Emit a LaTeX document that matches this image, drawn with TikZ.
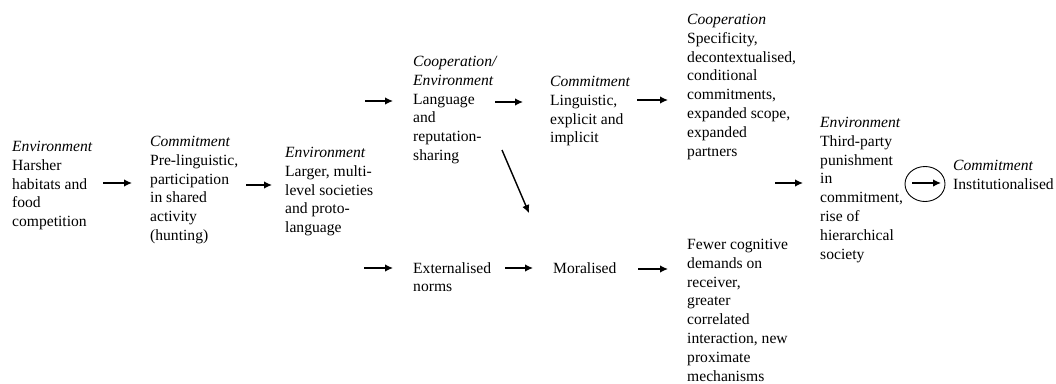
\documentclass[tikz,border=0pt]{standalone}
\usepackage{fontspec}
\setmainfont{Liberation Serif}
\usetikzlibrary{arrows.meta,shapes.geometric}
\begin{document}
\begin{tikzpicture}[x=1pt,y=-1pt,
  txt/.style={anchor=north west, align=left, inner sep=0pt,
              font=\fontsize{15.6}{18.8}\selectfont},
  arr/.style={line width=1.4pt, -{Latex[length=8pt,width=7.5pt]}},
  ring/.style={draw, ellipse, line width=0.9pt, minimum width=40pt,
               minimum height=35pt, inner sep=0pt},
]
\useasboundingbox[fill=white] (0,0) rectangle (1056,383);

% stages of the top and middle rows
\node[txt] (harsh) at (12,141)  {\textit{Environment}\\Harsher\\habitats and\\food\\competition};
\node[txt] (prel)  at (150,136) {\textit{Commitment}\\Pre-linguistic,\\participation\\in shared\\activity\\(hunting)};
\node[txt] (multi) at (285,147) {\textit{Environment}\\Larger, multi-\\level societies\\and proto-\\language};
\node[txt] (lang)  at (413,56)  {\textit{Cooperation/}\\\textit{Environment}\\Language\\and\\reputation-\\sharing};
\node[txt] (ling)  at (550,76)  {\textit{Commitment}\\Linguistic,\\explicit and\\implicit};
\node[txt] (spec)  at (687,14)  {\textit{Cooperation}\\Specificity,\\decontextualised,\\conditional\\commitments,\\expanded scope,\\expanded\\partners};
\node[txt] (third) at (820,117) {\textit{Environment}\\Third-party\\punishment\\in\\commitment,\\rise of\\hierarchical\\society};
\node[txt] (inst)  at (953,160) {\textit{Commitment}\\Institutionalised};

% stages of the lower row
\node[txt] (ext)   at (413,262) {Externalised\\norms};
\node[txt] (moral) at (553,262) {Moralised};
\node[txt] (fewer) at (687,239) {Fewer cognitive\\demands on\\receiver,\\greater\\correlated\\interaction, new\\proximate\\mechanisms};

% oval around the last transition
\node[ring] (loop) at (925,184) {};

% arrow end points
\coordinate (a1s) at (103,183); \coordinate (a1e) at (132,183);
\coordinate (a2s) at (246,185); \coordinate (a2e) at (272,185);
\coordinate (a3s) at (365,101); \coordinate (a3e) at (393,101);
\coordinate (a4s) at (495,102); \coordinate (a4e) at (523,102);
\coordinate (a5s) at (637,100); \coordinate (a5e) at (668,100);
\coordinate (a6s) at (364,268); \coordinate (a6e) at (393,268);
\coordinate (a7s) at (505,268); \coordinate (a7e) at (533,268);
\coordinate (a8s) at (638,269); \coordinate (a8e) at (668,269);
\coordinate (a9s) at (775,183); \coordinate (a9e) at (803,183);
\coordinate (dgs) at (502,150); \coordinate (dge) at (529,213);
\coordinate (rgs) at (912,183); \coordinate (rge) at (941,183);

\draw[arr] (a1s) -- (a1e);
\draw[arr] (a2s) -- (a2e);
\draw[arr] (a3s) -- (a3e);
\draw[arr] (a4s) -- (a4e);
\draw[arr] (a5s) -- (a5e);
\draw[arr] (a6s) -- (a6e);
\draw[arr] (a7s) -- (a7e);
\draw[arr] (a8s) -- (a8e);
\draw[arr] (a9s) -- (a9e);
\draw[arr] (dgs) -- (dge);
\draw[arr] (rgs) -- (rge);
\end{tikzpicture}
\end{document}
